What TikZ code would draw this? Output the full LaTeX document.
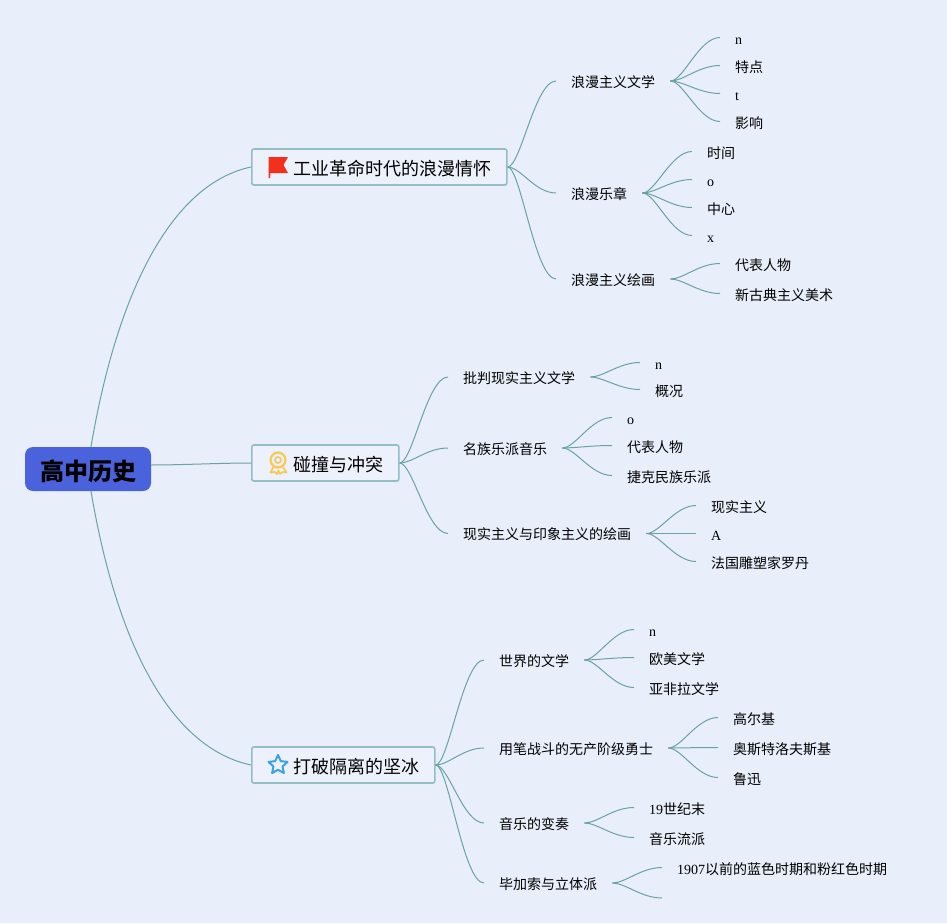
\documentclass[tikz,border=0pt]{standalone}
\usepackage{fontspec}
\setmainfont{Liberation Serif}
\newfontfamily\cjk{Noto Sans CJK SC}
\usetikzlibrary{positioning}
\usetikzlibrary{shapes.geometric}
\definecolor{paper}{HTML}{E9EEFB}
\definecolor{rootblue}{HTML}{4A63DC}
\definecolor{boxfill}{HTML}{EDF1FB}
\definecolor{boxline}{HTML}{93BEC3}
\definecolor{wire}{HTML}{6AA3A3}
\definecolor{flagred}{HTML}{F2301B}
\definecolor{medal}{HTML}{F6CB55}
\definecolor{starblue}{HTML}{3BA3E3}
\tikzset{
  rootnode/.style={rectangle,rounded corners=8pt,fill=rootblue,minimum width=126pt,minimum height=44pt,inner sep=0pt,text height=22pt,text depth=0pt,font=\cjk\bfseries\fontsize{24}{24}\selectfont},
  topic/.style={rectangle,rounded corners=2pt,draw=boxline,fill=boxfill,line width=1.6pt,anchor=west,minimum height=36pt,inner xsep=15pt,inner ysep=0pt,text height=17pt,text depth=0pt,font=\cjk\fontsize{18}{18}\selectfont},
  sub/.style={anchor=west,inner xsep=15pt,inner ysep=0pt,text height=12.5pt,text depth=0pt,font=\cjk\fontsize{14}{14}\selectfont},
  leaf/.style={anchor=west,inner xsep=15pt,inner ysep=0pt,text height=14pt,text depth=0pt,font=\fontsize{14}{14}\selectfont},
  cleaf/.style={leaf,text height=14.8pt},
  wire/.style={draw=wire,line width=1pt},
}
\begin{document}
\begin{tikzpicture}[x=1pt,y=-1pt]
	\fill[paper] (0,0) rectangle (947,923);
	\useasboundingbox (0,0) rectangle (947,923);
	%ROOT
	\node [rootnode] (R) at (88,469) {高中历史};
	%TOPICS
	\node [topic] (T1) at (251,167) {\hspace*{27pt}工业革命时代的浪漫情怀};
	\node [topic] (T2) at (251,463) {\hspace*{27pt}碰撞与冲突};
	\node [topic] (T3) at (251,765) {\hspace*{27pt}打破隔离的坚冰};
	\draw[wire] ([xshift=3pt]R.north) .. controls +(26,-154) and +(-80,17) .. (T1.west);
	\draw[wire] ([yshift=4pt]R.east) .. controls +(30,0) and +(-30,0) .. (T2.west);
	\draw[wire] ([xshift=3pt]R.south) .. controls +(26,154) and +(-80,-17) .. (T3.west);
	%ICONS
	\fill[flagred] (268.5,157) -- (288,157) -- (283.5,165) -- (288,173) -- (270.5,173) -- (270,178) -- (268.5,178) -- cycle;
	\draw[medal,line width=1.8pt,line join=round] (273.5,467) -- (270.5,472.5) -- (274.5,472) -- (277,474) -- (278.3,470.5) -- (280,474) -- (282.5,472) -- (286.5,472.5) -- (283,467);
	\node [circle,draw=medal,fill=paper,line width=2.2pt,minimum size=15pt,inner sep=0pt] (M1) at (278,460) {};
	\node [circle,draw=medal,line width=1.6pt,minimum size=6pt,inner sep=0pt] (M2) at (M1) {};
	\node [star,star points=5,star point ratio=2.1,draw=starblue,line width=2pt,line join=round,minimum size=20pt,inner sep=0pt] (S) at (278,765) {};

	%TOPIC 1 LEVEL 2
	\node [sub] (S11) at (556,81) {浪漫主义文学};
	\node [sub] (S12) at (556,193) {浪漫乐章};
	\node [sub] (S13) at (556,279) {浪漫主义绘画};
	\draw[wire] (T1.east) .. controls +(13,0) and +(-21,0) .. (S11.west);
	\draw[wire] (T1.east) .. controls +(13,0) and +(-21,0) .. (S12.west);
	\draw[wire] (T1.east) .. controls +(13,0) and +(-21,0) .. (S13.west);
	  %LEVEL 3
	  \node [leaf] (L111) at (720,37.5) {n};
	  \node [cleaf] (L112) at (720,65.5) {{\cjk 特点}};
	  \node [leaf] (L113) at (720,93.5) {t};
	  \node [cleaf] (L114) at (720,121.5) {{\cjk 影响}};
	  \draw[wire] (S11.east) .. controls +(13,0) and +(-21,0) .. (L111.west);
	  \draw[wire] (S11.east) .. controls +(13,0) and +(-21,0) .. (L112.west);
	  \draw[wire] (S11.east) .. controls +(13,0) and +(-21,0) .. (L113.west);
	  \draw[wire] (S11.east) .. controls +(13,0) and +(-21,0) .. (L114.west);
	  \node [cleaf] (L121) at (692,151.5) {{\cjk 时间}};
	  \node [leaf] (L122) at (692,179.5) {o};
	  \node [cleaf] (L123) at (692,207.5) {{\cjk 中心}};
	  \node [leaf] (L124) at (692,235.5) {x};
	  \draw[wire] (S12.east) .. controls +(13,0) and +(-21,0) .. (L121.west);
	  \draw[wire] (S12.east) .. controls +(13,0) and +(-21,0) .. (L122.west);
	  \draw[wire] (S12.east) .. controls +(13,0) and +(-21,0) .. (L123.west);
	  \draw[wire] (S12.east) .. controls +(13,0) and +(-21,0) .. (L124.west);
	  \node [cleaf] (L131) at (720,263.5) {{\cjk 代表人物}};
	  \node [cleaf] (L132) at (720,293.5) {{\cjk 新古典主义美术}};
	  \draw[wire] (S13.east) .. controls +(13,0) and +(-21,0) .. (L131.west);
	  \draw[wire] (S13.east) .. controls +(13,0) and +(-21,0) .. (L132.west);

	%TOPIC 2 LEVEL 2
	\node [sub] (S21) at (448,377) {批判现实主义文学};
	\node [sub] (S22) at (448,448) {名族乐派音乐};
	\node [sub] (S23) at (448,533.5) {现实主义与印象主义的绘画};
	\draw[wire] (T2.east) .. controls +(13,0) and +(-21,0) .. (S21.west);
	\draw[wire] (T2.east) .. controls +(13,0) and +(-21,0) .. (S22.west);
	\draw[wire] (T2.east) .. controls +(13,0) and +(-21,0) .. (S23.west);
	  %LEVEL 3
	  \node [leaf] (L211) at (640,362.5) {n};
	  \node [cleaf] (L212) at (640,389.5) {{\cjk 概况}};
	  \draw[wire] (S21.east) .. controls +(13,0) and +(-21,0) .. (L211.west);
	  \draw[wire] (S21.east) .. controls +(13,0) and +(-21,0) .. (L212.west);
	  \node [leaf] (L221) at (612,417.5) {o};
	  \node [cleaf] (L222) at (612,445.5) {{\cjk 代表人物}};
	  \node [cleaf] (L223) at (612,475.5) {{\cjk 捷克民族乐派}};
	  \draw[wire] (S22.east) .. controls +(13,0) and +(-21,0) .. (L221.west);
	  \draw[wire] (S22.east) .. controls +(13,0) and +(-21,0) .. (L222.west);
	  \draw[wire] (S22.east) .. controls +(13,0) and +(-21,0) .. (L223.west);
	  \node [cleaf] (L231) at (696,505.5) {{\cjk 现实主义}};
	  \node [leaf] (L232) at (696,533.5) {A};
	  \node [cleaf] (L233) at (696,561.5) {{\cjk 法国雕塑家罗丹}};
	  \draw[wire] (S23.east) .. controls +(13,0) and +(-21,0) .. (L231.west);
	  \draw[wire] (S23.east) .. controls +(13,0) and +(-21,0) .. (L232.west);
	  \draw[wire] (S23.east) .. controls +(13,0) and +(-21,0) .. (L233.west);

	%TOPIC 3 LEVEL 2
	\node [sub] (S31) at (484,660) {世界的文学};
	\node [sub] (S32) at (484,748) {用笔战斗的无产阶级勇士};
	\node [sub] (S33) at (484,823) {音乐的变奏};
	\node [sub] (S34) at (484,883) {毕加索与立体派};
	\draw[wire] (T3.east) .. controls +(13,0) and +(-21,0) .. (S31.west);
	\draw[wire] (T3.east) .. controls +(13,0) and +(-21,0) .. (S32.west);
	\draw[wire] (T3.east) .. controls +(13,0) and +(-21,0) .. (S33.west);
	\draw[wire] (T3.east) .. controls +(13,0) and +(-21,0) .. (S34.west);
	  %LEVEL 3
	  \node [leaf] (L311) at (634,629.5) {n};
	  \node [cleaf] (L312) at (634,657.5) {{\cjk 欧美文学}};
	  \node [cleaf] (L313) at (634,687.5) {{\cjk 亚非拉文学}};
	  \draw[wire] (S31.east) .. controls +(13,0) and +(-21,0) .. (L311.west);
	  \draw[wire] (S31.east) .. controls +(13,0) and +(-21,0) .. (L312.west);
	  \draw[wire] (S31.east) .. controls +(13,0) and +(-21,0) .. (L313.west);
	  \node [cleaf] (L321) at (718,717.5) {{\cjk 高尔基}};
	  \node [cleaf] (L322) at (718,747.5) {{\cjk 奥斯特洛夫斯基}};
	  \node [cleaf] (L323) at (718,777.5) {{\cjk 鲁迅}};
	  \draw[wire] (S32.east) .. controls +(13,0) and +(-21,0) .. (L321.west);
	  \draw[wire] (S32.east) .. controls +(13,0) and +(-21,0) .. (L322.west);
	  \draw[wire] (S32.east) .. controls +(13,0) and +(-21,0) .. (L323.west);
	  \node [cleaf] (L331) at (634,807.5) {19{\cjk 世纪末}};
	  \node [cleaf] (L332) at (634,837.5) {{\cjk 音乐流派}};
	  \draw[wire] (S33.east) .. controls +(13,0) and +(-21,0) .. (L331.west);
	  \draw[wire] (S33.east) .. controls +(13,0) and +(-21,0) .. (L332.west);
	  \node [cleaf] (L341) at (662,867.5) {1907{\cjk 以前的蓝色时期和粉红色时期}};
	  \coordinate (L342) at (662,898);
	  \draw[wire] (S34.east) .. controls +(13,0) and +(-21,0) .. (L341.west);
	  \draw[wire] (S34.east) .. controls +(13,0) and +(-21,0) .. (L342);
\end{tikzpicture}
\end{document}
